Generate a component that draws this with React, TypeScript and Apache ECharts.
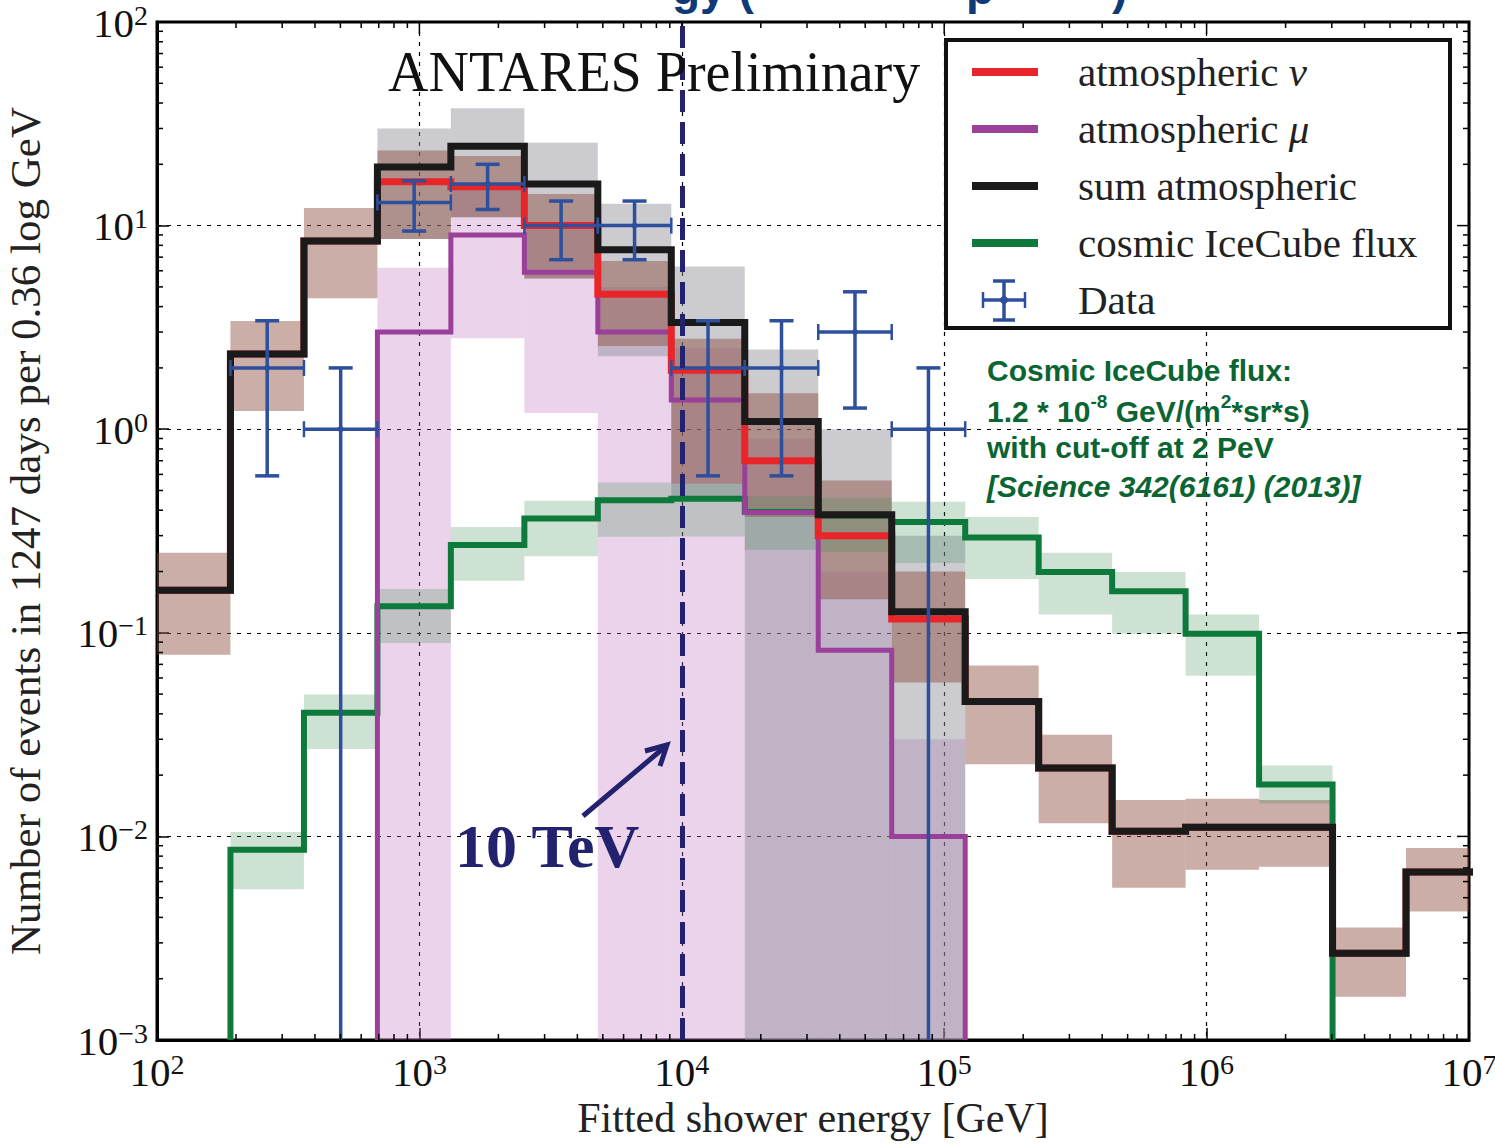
import React, { useEffect, useRef } from 'react';
import * as echarts from 'echarts';

// ---- data ----
const binEdges = [100, 190.5, 363.1, 691.8, 1318, 2512, 4786, 9120, 17378, 33113, 63096, 120226, 229087, 436516, 831764, 1584893, 3019952, 5754399, 10964782];

const sumAtm = [0.162, 2.34, 8.4, 19.4, 24.5, 16.0, 7.6, 3.34, 1.09, 0.38, 0.127, 0.046, 0.0217, 0.0106, 0.0111, 0.0111, 0.00267, 0.00668];
const atmNu = [0.162, 2.34, 8.4, 16.4, 15.5, 10.0, 4.6, 1.95, 0.70, 0.30, 0.117, 0.046, 0.0217, 0.0106, 0.0111, 0.0111, 0.00267, 0.00668];
const atmMu = [null, null, null, 3.0, 9.0, 5.9, 3.0, 1.39, 0.39, 0.082, 0.0100, null, null, null, null, null, null, null];
const cosmic = [null, 0.0086, 0.0405, 0.135, 0.27, 0.364, 0.448, 0.455, 0.392, 0.377, 0.35, 0.294, 0.199, 0.16, 0.099, 0.018, null, null];

const nuBandLo = [0.078, 1.23, 4.4, 8.6, 11, 5.5, 2.56, 0.54, 0.37, 0.146, 0.057, 0.0226, 0.0116, 0.0056, 0.00686, 0.0071, 0.00163, 0.00428];
const nuBandHi = [0.247, 3.4, 12.2, 23.4, 22, 14.3, 6.7, 2.78, 1.5, 0.56, 0.2, 0.069, 0.0316, 0.0151, 0.0153, 0.0151, 0.00357, 0.00877];
const sumBandLo = [null, null, null, 8.6, 11, 5.5, 2.28, 0.46, 0, 0, 0, null, null, null, null, null, null, null];
const sumBandHi = [null, null, null, 30, 37.7, 25.5, 12.8, 6.3, 2.46, 1.0, 0.3, null, null, null, null, null, null, null];
const muBandLo = [null, null, null, 0, 2.8, 1.2, 0, 0, 0, 0, 0, null, null, null, null, null, null, null];
const muBandHi = [null, null, null, 6.2, 16, 10, 5, 2.5, 0.9, 0.2, 0.03, null, null, null, null, null, null, null];
const cosBandLo = [null, 0.0055, 0.0269, 0.089, 0.18, 0.238, 0.296, 0.297, 0.256, 0.25, 0.22, 0.184, 0.123, 0.099, 0.0615, 0.0145, null, null];
const cosBandHi = [null, 0.0105, 0.0498, 0.164, 0.331, 0.445, 0.547, 0.54, 0.47, 0.46, 0.44, 0.371, 0.247, 0.199, 0.123, 0.0223, null, null];

const dataBins = [1, 2, 3, 4, 5, 6, 7, 8, 9, 10];
const dataCounts = [2, 1, 13, 16, 10, 10, 2, 2, 3, 1];
const dataErrLow = [0.59, 0, 9.4, 12.0, 6.8, 6.8, 0.59, 0.59, 1.27, 0];
const dataErrHigh = [3.41, 2.0, 16.6, 20.0, 13.2, 13.2, 3.41, 3.41, 4.73, 2.0];

const cutEnergy = 10000;

const X_MIN = 100, X_MAX = 1e7, Y_MIN = 1e-3, Y_MAX = 100;

const SERIF = "'Liberation Serif', 'DejaVu Serif', serif";
const SANS = "'Liberation Sans', Arial, sans-serif";

function stepPoints(vals: (number | null)[], floorStart: boolean, floorEnd: boolean) {
  const pts: number[][] = [];
  let i0 = -1, i1 = -1;
  vals.forEach((v, i) => { if (v != null) { if (i0 < 0) i0 = i; i1 = i; } });
  if (floorStart) pts.push([binEdges[i0], Y_MIN]);
  for (let i = i0; i <= i1; i++) {
    const v = vals[i] as number;
    pts.push([binEdges[i], v], [binEdges[i + 1], v]);
  }
  if (floorEnd) pts.push([binEdges[i1 + 1], Y_MIN]);
  return pts;
}

function bandSeries(lo: (number | null)[], hi: (number | null)[], color: string, z: number) {
  const data: number[][] = [];
  lo.forEach((l, i) => {
    if (l == null || hi[i] == null) return;
    data.push([binEdges[i], binEdges[i + 1], Math.max(l, Y_MIN), hi[i] as number]);
  });
  return {
    type: 'custom',
    z,
    silent: true,
    encode: { x: [0, 1], y: [2, 3] },
    data,
    renderItem: (params: any, api: any) => {
      const r = params.coordSys;
      const p1 = api.coord([api.value(0), api.value(3)]);
      const p2 = api.coord([api.value(1), api.value(2)]);
      const x1 = Math.max(p1[0], r.x), x2 = Math.min(p2[0], r.x + r.width);
      const y1 = Math.max(p1[1], r.y), y2 = Math.min(p2[1], r.y + r.height);
      return { type: 'rect', shape: { x: x1, y: y1, width: x2 - x1, height: y2 - y1 }, style: { fill: color } };
    },
  };
}

function lineSeries(name: string, pts: number[][], color: string, width: number, z: number, extra: any = {}) {
  return {
    name, type: 'line', data: pts, z, symbol: 'none', clip: true, silent: true,
    lineStyle: { color, width, join: 'miter', cap: 'butt' },
    ...extra,
  };
}

function expLabel(v: number) {
  const e = Math.round(Math.log10(v));
  const s = e < 0 ? '\u2212' + Math.abs(e) : String(e);
  return '{b|10}{s|' + s + '}';
}

const labelRich = {
  b: { fontFamily: SERIF, fontSize: 41, color: '#111', lineHeight: 42, verticalAlign: 'bottom' },
  s: { fontFamily: SERIF, fontSize: 28, color: '#111', lineHeight: 20, verticalAlign: 'top' },
};

export default function App() {
  const ref = useRef<HTMLDivElement>(null);
  useEffect(() => {
    if (!ref.current) return;
    const chart = echarts.init(ref.current, null, { renderer: 'svg' });

    const dataItems = dataBins.map((b, k) => [
      Math.sqrt(binEdges[b] * binEdges[b + 1]), dataCounts[k], binEdges[b], binEdges[b + 1], Math.max(dataErrLow[k], Y_MIN), dataErrHigh[k],
    ]);

    const blue = '#2d4f9c';
    const navy = '#22226e';
    const green = '#0b6532';

    const option: any = {
      animation: false,
      backgroundColor: '#fff',
      grid: {
        left: 157, right: 26, top: 22, bottom: 104, outerBoundsMode: 'none', containLabel: false,
        show: true, borderColor: '#000', borderWidth: 3, backgroundColor: 'transparent',
      },
      xAxis: {
        type: 'log', logBase: 10, min: X_MIN, max: X_MAX, splitNumber: 5,
        axisLine: { show: true, lineStyle: { color: '#000', width: 3 } },
        axisTick: { show: true, inside: true, length: 12, lineStyle: { color: '#000', width: 1.5 } },
        axisLabel: { margin: 10, formatter: expLabel, rich: labelRich, showMinLabel: true, showMaxLabel: true },
        splitLine: { show: true, lineStyle: { color: '#000', type: [4, 6], width: 1.2 } },
        name: 'Fitted shower energy [GeV]', nameLocation: 'middle', nameGap: 53,
        nameTextStyle: { fontFamily: SERIF, fontSize: 42, color: '#222' },
      },
      yAxis: {
        type: 'log', logBase: 10, min: Y_MIN, max: Y_MAX, splitNumber: 5,
        axisLine: { show: true, lineStyle: { color: '#000', width: 3 } },
        axisTick: { show: true, inside: true, length: 12, lineStyle: { color: '#000', width: 1.5 } },
        axisLabel: { margin: 9, formatter: expLabel, rich: labelRich, showMinLabel: true, showMaxLabel: true },
        splitLine: { show: true, lineStyle: { color: '#000', type: [4, 6], width: 1.2 } },
        name: 'Number of events in 1247 days per 0.36 log GeV', nameLocation: 'middle', nameGap: 110, nameRotate: 90,
        nameTextStyle: { fontFamily: SERIF, fontSize: 43, color: '#222' },
      },
      series: [
        bandSeries(muBandLo, muBandHi, 'rgba(190,110,190,0.3)', 1),
        bandSeries(sumBandLo, sumBandHi, 'rgba(140,140,150,0.45)', 1),
        bandSeries(nuBandLo, nuBandHi, 'rgba(140,75,60,0.45)', 1),
        bandSeries(cosBandLo, cosBandHi, 'rgba(60,140,80,0.25)', 1),
        lineSeries('cosmic IceCube flux', stepPoints(cosmic, true, true), '#0d7a3c', 6, 3),
        lineSeries('atmospheric \u03bc', stepPoints(atmMu, true, true), '#9a3f9a', 5, 4),
        lineSeries('atmospheric \u03bd', stepPoints(atmNu, false, false), '#e8262a', 7, 5),
        lineSeries('sum atmospheric', stepPoints(sumAtm, false, false), '#1a1a1a', 7, 6, {
          markLine: {
            silent: true, symbol: ['none', 'none'], label: { show: false },
            lineStyle: { color: navy, width: 5, type: [22, 10] },
            data: [{ xAxis: cutEnergy }],
            z: 20,
          },
        }),
        {
          name: 'Data', type: 'custom', z: 8, silent: true,
          encode: { x: [0, 2, 3], y: [1, 4, 5] },
          data: dataItems,
          renderItem: (params: any, api: any) => {
            const r = params.coordSys;
            const x = api.value(0), y = api.value(1);
            const c = api.coord([x, y]);
            const pl = api.coord([api.value(2), y]);
            const ph = api.coord([api.value(3), y]);
            const lo = api.coord([x, api.value(4)]);
            const hi = api.coord([x, api.value(5)]);
            const bottom = r.y + r.height;
            const st = { stroke: blue, lineWidth: 3.5 };
            const ch: any[] = [
              { type: 'line', shape: { x1: pl[0], y1: c[1], x2: ph[0], y2: c[1] }, style: st },
              { type: 'line', shape: { x1: c[0], y1: Math.min(lo[1], bottom), x2: c[0], y2: hi[1] }, style: st },
              { type: 'line', shape: { x1: c[0] - 12, y1: hi[1], x2: c[0] + 12, y2: hi[1] }, style: st },
              { type: 'line', shape: { x1: pl[0], y1: c[1] - 8, x2: pl[0], y2: c[1] + 8 }, style: { stroke: blue, lineWidth: 2.5 } },
              { type: 'line', shape: { x1: ph[0], y1: c[1] - 8, x2: ph[0], y2: c[1] + 8 }, style: { stroke: blue, lineWidth: 2.5 } },
              { type: 'circle', shape: { cx: c[0], cy: c[1], r: 3 }, style: { fill: blue } },
            ];
            if (lo[1] < bottom - 1) {
              ch.push({ type: 'line', shape: { x1: c[0] - 12, y1: lo[1], x2: c[0] + 12, y2: lo[1] }, style: st });
            }
            return { type: 'group', children: ch };
          },
        },
        {
          type: 'custom', z: 9, silent: true, data: [[1000, 1]],
          renderItem: (params: any, api: any) => {
            const r = params.coordSys;
            const ch: any[] = [];
            const st = { stroke: '#000', lineWidth: 1.5 };
            for (let e = 2; e <= 6; e++) {
              for (let m = 1; m <= 9; m++) {
                const v = m * Math.pow(10, e);
                if (v > X_MAX) continue;
                const px = api.coord([v, 1])[0];
                const len = m === 1 ? 12 : 6;
                ch.push({ type: 'line', shape: { x1: px, y1: r.y, x2: px, y2: r.y + len }, style: st });
                if (m !== 1) ch.push({ type: 'line', shape: { x1: px, y1: r.y + r.height, x2: px, y2: r.y + r.height - len }, style: st });
              }
            }
            for (let e = -3; e <= 1; e++) {
              for (let m = 1; m <= 9; m++) {
                const v = m * Math.pow(10, e);
                const py = api.coord([1000, v])[1];
                const len = m === 1 ? 12 : 6;
                ch.push({ type: 'line', shape: { x1: r.x + r.width, y1: py, x2: r.x + r.width - len, y2: py }, style: st });
                if (m !== 1) ch.push({ type: 'line', shape: { x1: r.x, y1: py, x2: r.x + len, y2: py }, style: st });
              }
            }
            return { type: 'group', children: ch };
          },
        },
      ],
      graphic: [
        // bottoms of the slide title, which the reference shows cut off at its top edge
        { type: 'text', x: 672, y: 11, z: 50, style: { text: 'gy (', font: `bold 46px ${SANS}`, fill: '#0e3a78', verticalAlign: 'bottom' } },
        { type: 'text', x: 966, y: 11, z: 50, style: { text: 'p', font: `bold 46px ${SANS}`, fill: '#0e3a78', verticalAlign: 'bottom' } },
        { type: 'text', x: 1112, y: 11, z: 50, style: { text: ')', font: `bold 46px ${SANS}`, fill: '#0e3a78', verticalAlign: 'bottom' } },
        // ANTARES Preliminary
        { type: 'text', x: 388, y: 72, z: 50, style: { text: 'ANTARES Preliminary', font: `56px ${SERIF}`, fill: '#111', verticalAlign: 'middle' } },
        // legend
        { type: 'rect', z: 50, shape: { x: 946, y: 40, width: 504, height: 288 }, style: { fill: '#fff', stroke: '#111', lineWidth: 4 } },
        { type: 'line', z: 51, shape: { x1: 972, y1: 72, x2: 1038, y2: 72 }, style: { stroke: '#e8262a', lineWidth: 8 } },
        { type: 'line', z: 51, shape: { x1: 972, y1: 129, x2: 1038, y2: 129 }, style: { stroke: '#9a3f9a', lineWidth: 8 } },
        { type: 'line', z: 51, shape: { x1: 972, y1: 186, x2: 1038, y2: 186 }, style: { stroke: '#1a1a1a', lineWidth: 8 } },
        { type: 'line', z: 51, shape: { x1: 972, y1: 243, x2: 1038, y2: 243 }, style: { stroke: '#0d7a3c', lineWidth: 8 } },
        { type: 'line', z: 51, shape: { x1: 1004, y1: 281, x2: 1004, y2: 320 }, style: { stroke: blue, lineWidth: 3.5 } },
        { type: 'line', z: 51, shape: { x1: 993, y1: 281, x2: 1015, y2: 281 }, style: { stroke: blue, lineWidth: 3.5 } },
        { type: 'line', z: 51, shape: { x1: 993, y1: 320, x2: 1015, y2: 320 }, style: { stroke: blue, lineWidth: 3.5 } },
        { type: 'line', z: 51, shape: { x1: 983, y1: 300, x2: 1025, y2: 300 }, style: { stroke: blue, lineWidth: 3.5 } },
        { type: 'line', z: 51, shape: { x1: 983, y1: 292, x2: 983, y2: 308 }, style: { stroke: blue, lineWidth: 2.5 } },
        { type: 'line', z: 51, shape: { x1: 1025, y1: 292, x2: 1025, y2: 308 }, style: { stroke: blue, lineWidth: 2.5 } },
        { type: 'circle', z: 51, shape: { cx: 1004, cy: 300, r: 4 }, style: { fill: blue } },
        {
          type: 'text', x: 1078, y: 72, z: 51,
          style: { text: '{r|atmospheric }{i|\u03bd}', verticalAlign: 'middle', rich: { r: { font: `41px ${SERIF}`, fill: '#222' }, i: { font: `italic 41px ${SERIF}`, fill: '#222' } } },
        },
        {
          type: 'text', x: 1078, y: 129, z: 51,
          style: { text: '{r|atmospheric }{i|\u03bc}', verticalAlign: 'middle', rich: { r: { font: `41px ${SERIF}`, fill: '#222' }, i: { font: `italic 41px ${SERIF}`, fill: '#222' } } },
        },
        { type: 'text', x: 1078, y: 186, z: 51, style: { text: 'sum atmospheric', font: `41px ${SERIF}`, fill: '#222', verticalAlign: 'middle' } },
        { type: 'text', x: 1078, y: 243, z: 51, style: { text: 'cosmic IceCube flux', font: `41px ${SERIF}`, fill: '#222', verticalAlign: 'middle' } },
        { type: 'text', x: 1078, y: 300, z: 51, style: { text: 'Data', font: `41px ${SERIF}`, fill: '#222', verticalAlign: 'middle' } },
        // IceCube annotation
        { type: 'text', x: 987, y: 370, z: 50, style: { text: 'Cosmic IceCube flux:', font: `bold 30px ${SANS}`, fill: green, verticalAlign: 'middle' } },
        {
          type: 'text', x: 987, y: 409, z: 50,
          style: {
            text: '{n|1.2 * 10}{s|-8}{n| GeV/(m}{s|2}{n|*sr*s)}', verticalAlign: 'middle',
            rich: {
              n: { font: `bold 30px ${SANS}`, fill: green, lineHeight: 34, verticalAlign: 'bottom' },
              s: { font: `bold 19px ${SANS}`, fill: green, lineHeight: 24, verticalAlign: 'top' },
            },
          },
        },
        { type: 'text', x: 987, y: 447, z: 50, style: { text: 'with cut-off at 2 PeV', font: `bold 30px ${SANS}`, fill: green, verticalAlign: 'middle' } },
        { type: 'text', x: 987, y: 486, z: 50, style: { text: '[Science 342(6161) (2013)]', font: `italic bold 30px ${SANS}`, fill: green, verticalAlign: 'middle' } },
        // 10 TeV annotation
        { type: 'text', x: 455, y: 846, z: 50, style: { text: '10 TeV', font: `bold 62px ${SERIF}`, fill: navy, verticalAlign: 'middle' } },
        { type: 'line', z: 50, shape: { x1: 583, y1: 816, x2: 666, y2: 746 }, style: { stroke: navy, lineWidth: 5 } },
        { type: 'polyline', z: 50, shape: { points: [[645, 751], [667, 745], [660, 766]] }, style: { stroke: navy, lineWidth: 5, fill: 'none' } },
      ],
    };

    chart.setOption(option);
    return () => chart.dispose();
  }, []);

  return <div ref={ref} style={{ position: 'fixed', left: 0, top: 0, width: 1495, height: 1144, background: '#fff' }} />;
}
